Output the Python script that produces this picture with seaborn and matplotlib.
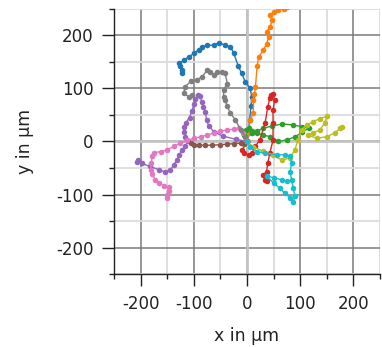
import numpy as np
import pandas as pd
import matplotlib
matplotlib.use("Agg")
import matplotlib.pyplot as plt
import seaborn as sns
from matplotlib.ticker import MultipleLocator

# Cell tracks (x, y in µm), each starting at the origin
track_1_x = [0, 3, 5, 7.5, 9, 6, -3, -10, -16, -25, -31, -41, -53, -62, -75, -84, -91, -100, -109, -119, -127, -125, -122, -122]
track_1_y = [0, 16, 41, 66, 84, 100, 112, 128, 141, 166, 178, 181, 186, 181, 181, 178, 172, 166, 159, 153, 147, 141, 134, 129]

track_2_x = [0, 3, 6, 12, 12, 14, 16, 19, 22, 31, 37, 41, 37, 44, 47, 44, 50, 59, 69, 75]
track_2_y = [0, 16, 41, 53, 78, 90, 103, 141, 159, 172, 184, 197, 206, 216, 228, 237, 244, 248, 250, 252]

track_3_x = [0, -6, -1, 3, 9, 19, 31, 44, 59, 75, 91, 103, 116, 103, 87, 66, 47, 31, 19, 9]
track_3_y = [0, 12, 22, 25, 19, 16, 12, 9, 0, 3, 9, 17, 25, 28, 31, 33, 29, 25, 19, 16]

track_4_x = [0, -9, -6, 3, 9, 16, 24, 34, 39, 43, 46, 49, 52, 49, 49, 49, 43, 39, 37, 30, 34, 37]
track_4_y = [0, -16, -22, -25, -22, -9, 3, 34, 65, 81, 87, 89, 78, 59, 34, 3, -22, -41, -57, -63, -72, -75]

track_5_x = [0, -20, -45, -62, -72, -76, -78, -82, -85, -88, -92, -97, -100, -103, -108, -115, -119, -118, -116, -110, -116, -122, -127, -132, -138, -144, -154, -166, -182, -198, -207, -205]
track_5_y = [0, 4, 10, 18, 30, 40, 55, 65, 75, 85, 87, 80, 70, 58, 45, 35, 28, 18, 9, 0, -8, -16, -25, -35, -45, -53, -57, -53, -47, -41, -38, -34]

track_6_x = [0, -5, -12, -25, -37, -50, -66, -78, -91, -100, -106]
track_6_y = [0, -5, -3, -4, -5, -6, -7, -7, -7, -6, -3]

track_7_x = [0, -7, -15, -25, -37, -50, -62, -75, -87, -100, -112, -125, -137, -150, -162, -175, -178, -180, -181, -178, -172, -166, -156, -147, -147, -150, -150]
track_7_y = [0, 16, 25, 23, 22, 19, 16, 12, 9, 6, 2, -3, -9, -16, -19, -21, -28, -41, -53, -62, -72, -78, -83, -86, -94, -100, -106]

track_8_x = [0, -3, -12, -22, -31, -37, -41, -44, -44, -37, -41, -47, -56, -62, -69, -75, -84, -94, -106, -116, -119, -109, -103]
track_8_y = [0, 9, 22, 41, 53, 66, 78, 84, 97, 109, 128, 131, 131, 125, 131, 134, 122, 116, 113, 103, 91, 84, 87]

track_9_x = [0, 12, 30, 49, 65, 81, 90, 96, 103, 112, 124, 137, 150, 146, 137, 124, 115, 131, 150, 165, 175, 178]
track_9_y = [0, -10, -18, -25, -35, -31, -16, 3, 22, 31, 37, 43, 47, 34, 22, 16, 12, 6, 9, 16, 25, 28]

track_10_x = [0, 6, 18, 34, 56, 71, 81, 84, 81, 84, 87, 90, 87, 81, 71, 62, 50, 37, 50, 65, 75]
track_10_y = [0, -10, -19, -22, -25, -25, -28, -41, -57, -72, -88, -103, -113, -106, -97, -88, -78, -65, -68, -72, -75]

tracks_x = [track_1_x, track_2_x, track_3_x, track_4_x, track_5_x,
            track_6_x, track_7_x, track_8_x, track_9_x, track_10_x]
tracks_y = [track_1_y, track_2_y, track_3_y, track_4_y, track_5_y,
            track_6_y, track_7_y, track_8_y, track_9_y, track_10_y]

tick_values = [-200, -100, 0, 100, 200]
tick_labels = ["-200", "-100", "0", "100", "200"]

rows = []
for i, (xs, ys) in enumerate(zip(tracks_x, tracks_y)):
    for step, (x, y) in enumerate(zip(xs, ys)):
        rows.append({"track": i, "step": step, "x": x, "y": y})
df = pd.DataFrame(rows)

sns.set_theme(style="white")
plt.rcParams["font.family"] = ["DejaVu Sans"]
plt.rcParams["axes.unicode_minus"] = False

fig = plt.figure(figsize=(3.82, 3.47), dpi=100)
ax = fig.add_axes([0.298, 0.209, 0.697, 0.7665])

sns.lineplot(data=df, x="x", y="y", hue="track", palette="tab10",
             sort=False, estimator=None, marker="o", markersize=4,
             markeredgewidth=0, linewidth=1.0, legend=False, ax=ax, zorder=3)

ax.set_xlim(-250, 250)
ax.set_ylim(-250, 250)
ax.set_aspect("equal", adjustable="box")

ax.xaxis.set_minor_locator(MultipleLocator(50))
ax.yaxis.set_minor_locator(MultipleLocator(50))
ax.set_xticks(tick_values)
ax.set_xticklabels(tick_labels)
ax.set_yticks(tick_values)
ax.set_yticklabels(tick_labels)

ax.grid(which="major", color="#7a7a7a", linewidth=1.1, zorder=0)
ax.grid(which="minor", color="#dcdcdc", linewidth=1.3, zorder=0)
ax.axhline(0, color="#c4c4c4", linewidth=2, zorder=1)
ax.axvline(0, color="#c4c4c4", linewidth=2, zorder=1)
ax.set_axisbelow(True)

for side in ("top", "right"):
    ax.spines[side].set_visible(False)
for side in ("left", "bottom"):
    ax.spines[side].set_color("#222222")
    ax.spines[side].set_linewidth(1.0)

ax.tick_params(which="major", direction="out", length=8.5, width=1,
               color="#222222", labelsize=12, labelcolor="#222222", pad=6,
               left=True, bottom=True)
ax.tick_params(which="minor", direction="out", length=3.5, width=1,
               color="#222222", left=True, bottom=True)

ax.set_xlabel("x in µm", fontsize=12.5, color="#222222", labelpad=10)
ax.set_ylabel("y in µm", fontsize=12.5, color="#222222", labelpad=16)

fig.savefig("out.png", dpi=100)
